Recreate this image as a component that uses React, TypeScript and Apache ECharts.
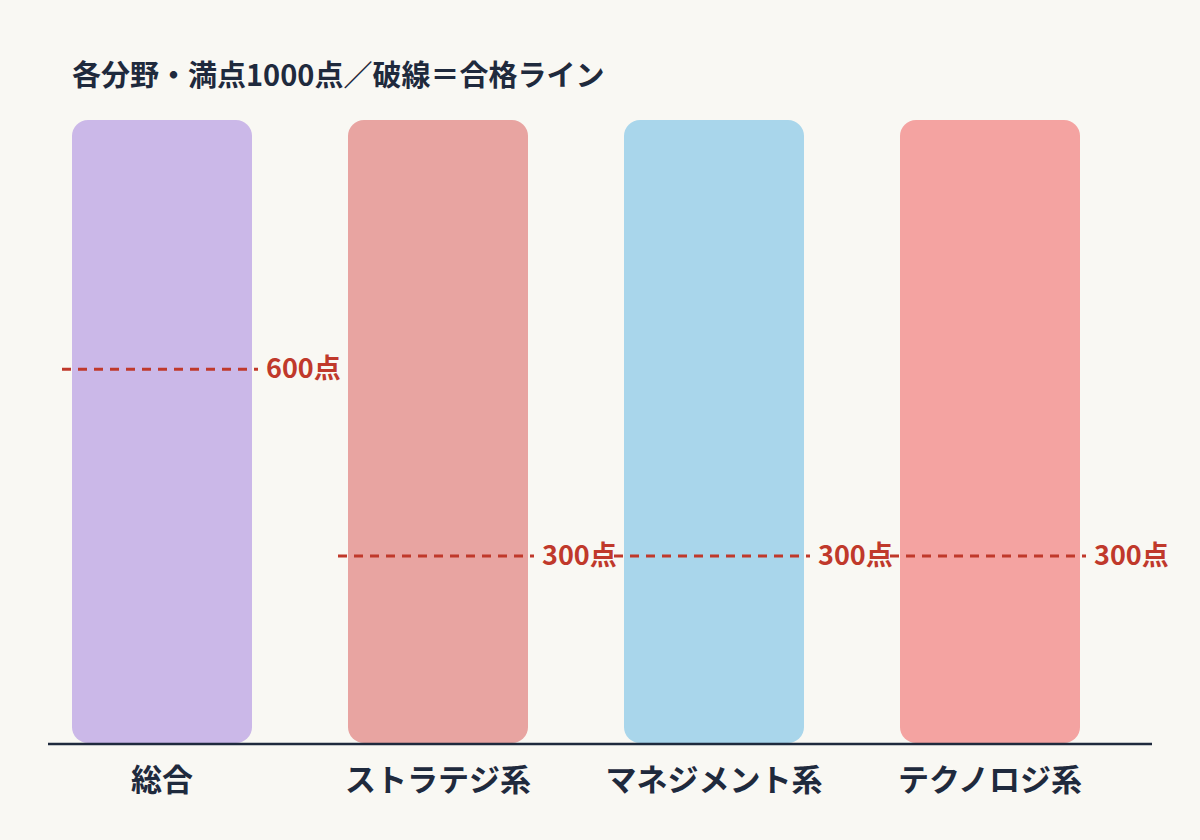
import React, { useEffect, useRef } from "react";
import * as echarts from "echarts";

const categories = ["総合", "ストラテジ系", "マネジメント系", "テクノロジ系"];
const fullScores = [1000, 1000, 1000, 1000];
const passScores = [600, 300, 300, 300];
const barColors = ["#cbb8e8", "#e8a4a1", "#a9d6eb", "#f4a3a1"];

const FONT = "'Noto Sans CJK JP', 'Noto Sans', sans-serif";
const INK = "#1f2a3d";
const PASS_RED = "#c0392b";

function App() {
  const chartRef = useRef<HTMLDivElement>(null);

  useEffect(() => {
    if (!chartRef.current) return undefined;
    const chart = echarts.init(chartRef.current, null, { renderer: "svg" });

    const options: echarts.EChartsOption = {
      animation: false,
      backgroundColor: "#f9f8f3",
      title: {
        text: "各分野・満点1000点／破線＝合格ライン",
        left: 72,
        top: 58,
        padding: 0,
        textStyle: {
          fontFamily: FONT,
          fontSize: 29,
          fontWeight: "bold",
          color: INK,
        },
      },
      grid: { left: 24, right: 72, top: 120, bottom: 97 },
      xAxis: {
        type: "category",
        data: categories,
        axisLine: { show: false },
        axisTick: { show: false },
        axisLabel: {
          interval: 0,
          hideOverlap: false,
          margin: 19,
          fontFamily: FONT,
          fontSize: 31,
          fontWeight: "bold",
          color: INK,
        },
      },
      yAxis: {
        type: "value",
        min: 0,
        max: 1000,
        show: false,
        splitLine: { show: false },
      },
      // baseline runs a bit wider than the bars
      graphic: [
        {
          type: "line",
          z: 100,
          shape: { x1: 48, y1: 744, x2: 1152, y2: 744 },
          style: { stroke: INK, lineWidth: 2.5 },
        },
      ],
      series: [
        {
          type: "bar",
          barWidth: 180,
          data: fullScores.map((v, i) => ({
            value: v,
            itemStyle: { color: barColors[i], borderRadius: 16 },
          })),
        },
        {
          type: "custom",
          z: 10,
          data: passScores.map((v, i) => [i, v]),
          renderItem(params: any, api: any) {
            const pt = api.coord([api.value(0), api.value(1)]);
            const cx = pt[0];
            const cy = pt[1];
            return {
              type: "group",
              children: [
                {
                  type: "line",
                  shape: { x1: cx - 100, y1: cy, x2: cx + 96, y2: cy },
                  style: { stroke: PASS_RED, lineWidth: 3, lineDash: [9, 7] },
                },
                {
                  type: "text",
                  x: cx + 104,
                  y: cy - 3,
                  style: {
                    text: `${api.value(1)}点`,
                    fill: PASS_RED,
                    fontFamily: FONT,
                    fontSize: 27,
                    fontWeight: "bold",
                    textAlign: "left",
                    textVerticalAlign: "middle",
                  },
                },
              ],
            };
          },
        },
      ],
    };

    chart.setOption(options);
    return () => {
      chart.dispose();
    };
  }, []);

  return (
    <div
      ref={chartRef}
      style={{ position: "fixed", left: 0, top: 0, width: "1200px", height: "840px" }}
    />
  );
}

export default App;
